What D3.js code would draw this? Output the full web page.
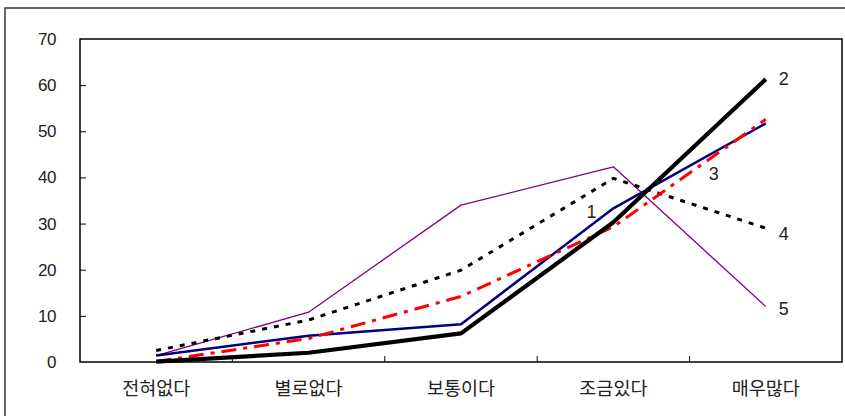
<!DOCTYPE html>
<html><head><meta charset="utf-8">
<script src="https://cdn.jsdelivr.net/npm/d3@7"></script>
<style>body{margin:0;background:#fff}svg{display:block}</style>
</head><body><svg id="c" width="845" height="416"></svg>
<script>
const categories = ["전혀없다","별로없다","보통이다","조금있다","매우많다"];
const yTicks = [0,10,20,30,40,50,60,70];
const s1 = [2.5, 9.1, 19.9, 39.8, 29.0];   // dotted black
const s2 = [0.1, 2.0, 6.2, 30.3, 61.3];    // thick black
const s3 = [0.1, 5.1, 14.2, 29.3, 52.6];   // red dash-dot
const s4 = [1.4, 5.7, 8.2, 33.3, 51.7];    // navy
const s5 = [1.4, 10.8, 34.0, 42.3, 12.0];  // purple
const labelNames = ["1","2","3","4","5"];

const svg = d3.select("#c");
const L=80, T=39, R=842, B=362;
const x = d3.scaleBand().domain(categories).range([L,R]).padding(0);
const y = d3.scaleLinear().domain([0,70]).range([B,T]);
const cx = c => x(c) + x.bandwidth()/2;

// outer frame
svg.append("rect").attr("x",5).attr("y",8).attr("width",860).attr("height",430)
  .attr("fill","none").attr("stroke","#333").attr("stroke-width",1.5);

// plot border
svg.append("rect").attr("x",L).attr("y",T).attr("width",R-L).attr("height",B-T)
  .attr("fill","none").attr("stroke","#000").attr("stroke-width",1.5);

// y axis
const ya = svg.append("g").attr("transform",`translate(${L},0)`)
  .call(d3.axisLeft(y).tickValues(yTicks).tickSize(-6).tickPadding(24).tickFormat(d3.format("d")));
ya.select(".domain").remove();
ya.selectAll("line").attr("stroke","#000");
ya.selectAll("text").attr("font-family","Liberation Sans, Arial, sans-serif").attr("font-size",17)
  .attr("letter-spacing","-0.5").attr("fill","#222");
ya.selectAll(".tick").filter(d=>d===0||d===70).select("line").remove();

// x axis ticks at band boundaries
const bounds = categories.slice(1).map(c => x(c));
svg.append("g").selectAll("line").data(bounds).join("line")
  .attr("x1",d=>d).attr("x2",d=>d).attr("y1",B).attr("y2",B-6).attr("stroke","#000");
svg.append("g").selectAll("text").data(categories).join("text")
  .attr("x",d=>cx(d)).attr("y",395).attr("text-anchor","middle")
  .attr("font-family","Noto Sans CJK KR, sans-serif").attr("font-size",18.5).attr("fill","#222")
  .text(d=>d);

const line = d3.line().x((d,i)=>cx(categories[i])).y(d=>y(d));
const series = [
  {v:s5, color:"#800080", w:1.3, dash:null},
  {v:s1, color:"#000", w:3, dash:"5,7"},
  {v:s4, color:"#000080", w:2.5, dash:null},
  {v:s3, color:"#ff0000", w:3, dash:"15,7,4,7"},
  {v:s2, color:"#000", w:4.2, dash:null}
];
svg.append("g").selectAll("path").data(series).join("path")
  .attr("d",d=>line(d.v)).attr("fill","none").attr("stroke",d=>d.color)
  .attr("stroke-width",d=>d.w).attr("stroke-dasharray",d=>d.dash)
  .attr("stroke-linejoin","round");

// number labels
const lab = [
  {t:labelNames[0], cat:3, v:s4[3], dx:-27, dy:4},
  {t:labelNames[1], cat:4, v:s2[4], dx:13, dy:0},
  {t:labelNames[2], cat:4, v:s4[4]-11, dx:-57, dy:0},
  {t:labelNames[3], cat:4, v:s1[4], dx:13, dy:6},
  {t:labelNames[4], cat:4, v:s5[4], dx:13, dy:2}
];
svg.append("g").selectAll("text").data(lab).join("text")
  .attr("x",d=>cx(categories[d.cat])+d.dx).attr("y",d=>y(d.v)+d.dy+6)
  .attr("font-family","Liberation Sans, Arial, sans-serif").attr("font-size",18).attr("fill","#222")
  .text(d=>d.t);
</script></body></html>
